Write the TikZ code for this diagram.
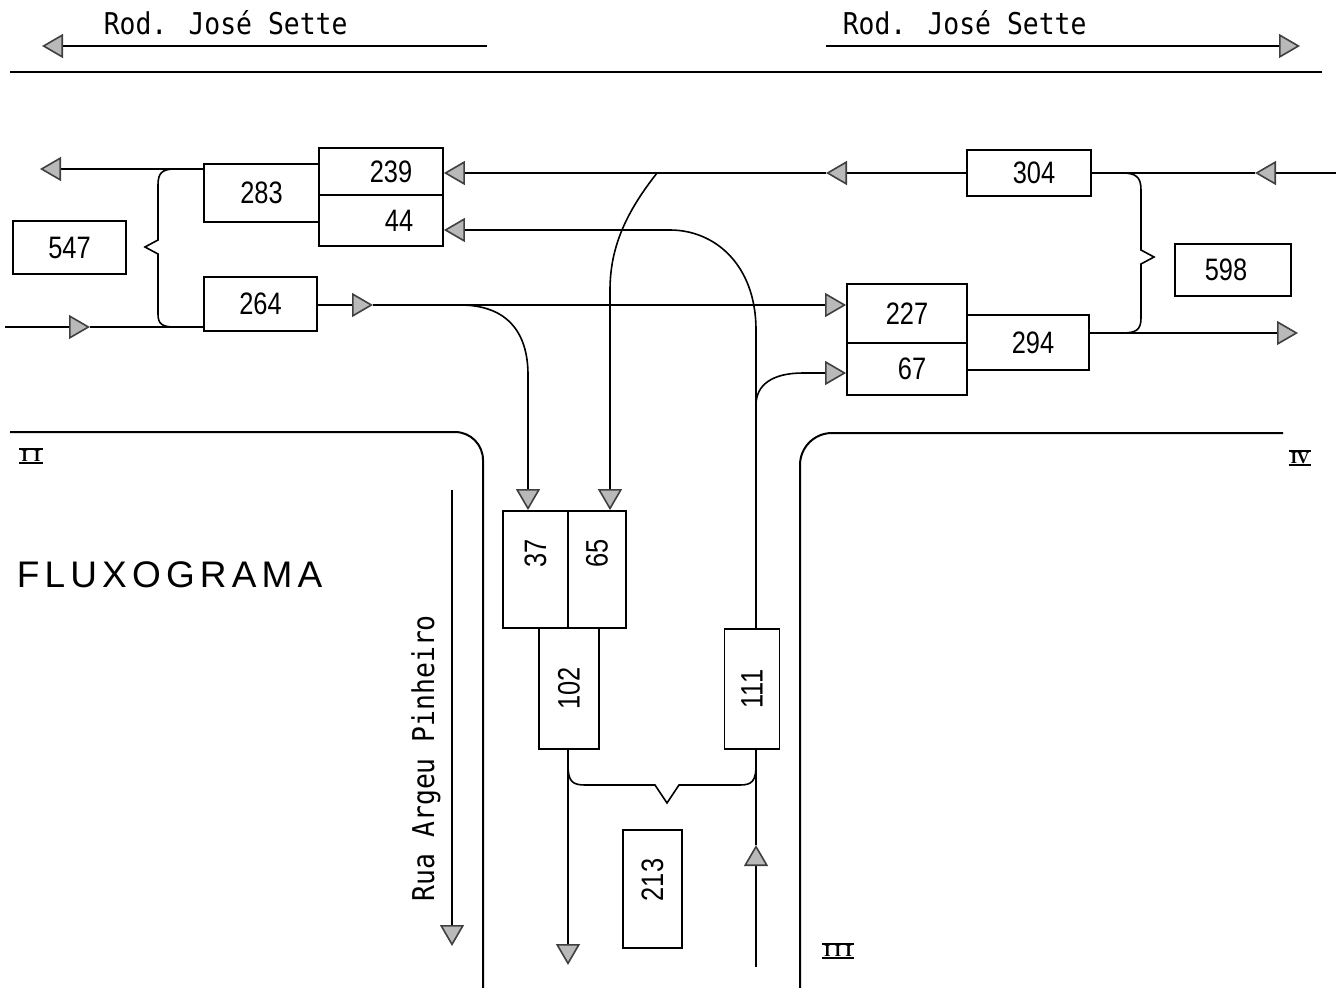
\documentclass[tikz,border=0pt]{standalone}
\usepackage{fontspec}
\usepackage{graphicx}
\usetikzlibrary{arrows.meta}
\newfontfamily\numf[FakeStretch=0.82]{Liberation Sans}
\newfontfamily\roadf[FakeStretch=0.88]{DejaVu Sans Mono}
\newfontfamily\titlef[LetterSpace=14]{Liberation Sans}
\newfontfamily\romf{Liberation Serif}
\newcommand\roml[1]{\vbox{\hrule height2pt\kern0.5pt\hbox{\kern2pt\romf\fontsize{17}{17}\selectfont\bfseries#1\kern2pt}\kern0.5pt\hrule height2pt}}
\begin{document}
\begin{tikzpicture}[x=1pt,y=-1pt,line width=1.6pt,
  box/.style={draw,line width=1.8pt,inner sep=0pt,font=\numf\fontsize{31}{31}\selectfont},
  vbox/.style={box,rotate=90},
  tipa/.style={-{Triangle[length=21pt,width=24pt,fill=gray!55,color=black!75]}},
  road/.style={line width=2pt},
  lbl/.style={font=\roadf\fontsize{30}{30}\selectfont,inner sep=0pt}]
\useasboundingbox (0,0) rectangle (1342,988);

% ---- texts ----
\node[lbl,anchor=base west] (t1) at (103,34) {Rod. José Sette};
\node[lbl,anchor=base west] (t2) at (842,34) {Rod. José Sette};
\node[lbl,rotate=90,anchor=base west] (t3) at (434,902) {Rua Argeu Pinheiro};
\node[font=\titlef\fontsize{37}{37}\selectfont,anchor=base west,inner sep=0pt] (ttl) at (16,587) {FLUXOGRAMA};
\node[inner sep=0pt] (r2) at (31,456) {\roml{I\kern6pt I}};
\node[inner sep=0pt] (r4) at (1300,458) {\roml{I\kern0pt V}};
\node[inner sep=0pt] (r3) at (838,951) {\roml{I\kern4pt I\kern4pt I}};

% ---- boxes ----
\node[box,minimum width=113pt,minimum height=53pt] (b547) at (69.5,247.5) {547};
\node[box,minimum width=115pt,minimum height=58pt] (b283) at (261.5,193) {283};
\node[box,minimum width=124pt,minimum height=47pt] (b239) at (381,171.5) {\hspace*{20pt}239};
\node[box,minimum width=124pt,minimum height=51pt] (b44) at (381,220.5) {\hspace*{36pt}44};
\node[box,minimum width=113pt,minimum height=54pt] (b264) at (260.5,304) {264};
\node[box,minimum width=124pt,minimum height=46pt] (b304) at (1029,173) {\hspace*{10pt}304};
\node[box,minimum width=116pt,minimum height=52pt] (b598) at (1233,270) {598\hspace*{14pt}};
\node[box,minimum width=120pt,minimum height=59pt] (b227) at (907,313.5) {227};
\node[box,minimum width=120pt,minimum height=52pt] (b67) at (907,369) {\hspace*{10pt}67};
\node[box,minimum width=122pt,minimum height=55pt] (b294) at (1028,342.5) {\hspace*{10pt}294};
\node[vbox,minimum width=117pt,minimum height=65pt] (b37) at (535.5,569.5) {\hspace*{33pt}37};
\node[vbox,minimum width=117pt,minimum height=58pt] (b65) at (597,569.5) {\hspace*{33pt}65};
\node[vbox,minimum width=121pt,minimum height=60pt] (b102) at (569,688.5) {102};
\node[vbox,minimum width=120pt,minimum height=55pt] (b111) at (752,689) {111};
\node[vbox,minimum width=118pt,minimum height=59pt] (b213) at (652.5,889) {\hspace*{18pt}213};

% ---- road edges ----
\draw[road] (10,72) -- (1322,72);
\draw[road,rounded corners=28pt] (10,432) -- (483,432) -- (483,988);
\draw[road,rounded corners=32pt] (800,988) -- (800,433) -- (1283,433);

% ---- road name arrows ----
\coordinate (tl1) at (487,46); \coordinate (tl2) at (42,46);
\draw[tipa] (tl1) -- (tl2);
\coordinate (tr1) at (826,46); \coordinate (tr2) at (1300,46);
\draw[tipa] (tr1) -- (tr2);
\coordinate (ra0) at (452,490); \coordinate (ra1) at (452,946);
\draw[tipa] (ra0) -- (ra1);

% ---- approach II (left) ----
\coordinate (lo) at (40,169);
\draw[tipa] (b283.west |- lo) -- (lo);
\coordinate (li0) at (5,327); \coordinate (li1) at (90,327);
\draw[tipa] (li0) -- (li1);
\draw (li1) -- (b264.west |- li1);
\draw (175,169) .. controls (162,169) and (158,173) .. (158,185) -- (158,240) -- (145,247) -- (158,254) -- (158,314) .. controls (158,324) and (162,327) .. (175,327);

\coordinate (m1) at (373,305);
\draw[tipa] (b264.east |- m1) -- (m1);
\draw[tipa] (m1) -- (b227.west |- m1);
\coordinate (s37) at (460,305); \coordinate (j37) at (528,375);
\draw[tipa] (s37) .. controls (505,305) and (528,330) .. (j37) -- (j37 |- b37.east);

% ---- approach IV (right) ----
\coordinate (ri0) at (1336,173); \coordinate (ri1) at (1255,173);
\draw[tipa] (ri0) -- (ri1);
\draw (ri1) -- (b304.east);
\coordinate (m2) at (826,173);
\draw[tipa] (b304.west) -- (m2);
\draw[tipa] (m2) -- (b239.east |- m2);
\coordinate (s65) at (657,173); \coordinate (j65) at (610,290);
\draw[tipa] (s65) .. controls (628,210) and (610,245) .. (j65) -- (j65 |- b65.east);
\coordinate (ro) at (1298,333);
\draw[tipa] (b294.east |- ro) -- (ro);
\draw (1122,173) .. controls (1136,173) and (1141,177) .. (1141,190) -- (1141,250) -- (1154,257) -- (1141,264) -- (1141,318) .. controls (1141,330) and (1136,333) .. (1122,333);

% ---- approach III (bottom) ----
\coordinate (j44) at (756,330); \coordinate (k44) at (670,230);
\draw[tipa] (b111.east -| j44) -- (j44) .. controls (756,265) and (715,230) .. (k44) -- (b44.east |- k44);
\coordinate (s67) at (756,405); \coordinate (j67) at (803,373);
\draw[tipa] (s67) .. controls (756,385) and (772,373) .. (j67) -- (b67.west |- j67);
\coordinate (e102) at (568,965);
\draw[tipa] (b102.west -| e102) -- (e102);
\coordinate (u0) at (756,967); \coordinate (u1) at (756,845);
\draw[tipa] (u0) -- (u1);
\draw (u1) -- (b111.west -| u1);
\draw (568,765) .. controls (568,781) and (572,785) .. (585,785) -- (655,785) -- (667,803) -- (679,785) -- (740,785) .. controls (752,785) and (756,781) .. (756,765);
\end{tikzpicture}
\end{document}
